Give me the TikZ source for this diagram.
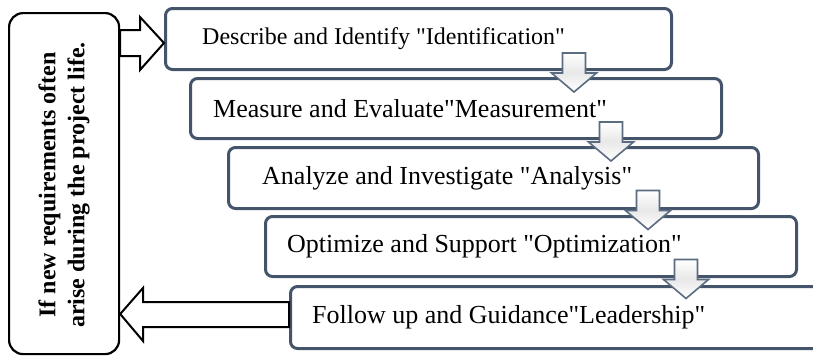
\documentclass[tikz,border=0pt]{standalone}
\usepackage{fontspec}
\setmainfont{Liberation Serif}
\usetikzlibrary{calc}

\definecolor{slate}{HTML}{44546A}
\definecolor{arrowedge}{HTML}{5B6B80}

\tikzset{
  stage/.style={draw=slate, line width=3pt, rounded corners=7pt, fill=white,
    anchor=north west, inner sep=0pt},
  stagetext/.style={anchor=west, inner sep=0pt},
  reqbox/.style={draw=black, line width=2.2pt, rounded corners=14pt,
    anchor=north west, inner sep=0pt},
  bigarrow/.style={draw=black, line width=2pt, fill=white, line join=miter},
  downarrow/.style={draw=arrowedge, line width=1.6pt, top color=white,
    bottom color=white, middle color=black!9},
  pics/stepdown/.style={code={%
    \path[downarrow] (-11.5,-19.5) -- (11.5,-19.5) -- (11.5,0.5) -- (22.5,0.5)
      -- (0,19.5) -- (-22.5,0.5) -- (-11.5,0.5) -- cycle;}}
}
% straight double quote
\newcommand\qq{\textquotedbl}

\begin{document}
\begin{tikzpicture}[x=1pt, y=-1pt]
    \clip (0,0) rectangle (813,356);

    % box with the feedback condition
    \node[reqbox, minimum width=110pt, minimum height=341pt] (req) at (8,12) {};
    \node[rotate=90, align=center, inner sep=0pt,
      font=\bfseries\fontsize{24}{29}\selectfont] (reqtext) at (64,185)
      {If new requirements often\\arise during the project life.};

    % the five stages, each shifted to the right
    \foreach \n/\x/\y/\w/\h/\dx/\fs/\txt in {%
        1/164/7/506/61/38/24/{Describe and Identify \qq Identification\qq},%
        2/189/77/531/60/24/26/{Measure and Evaluate\qq Measurement\qq},%
        3/227/146/530/61/35/26/{Analyze and Investigate \qq Analysis\qq},%
        4/264/215/531/60/23/26/{Optimize and Support \qq Optimization\qq},%
        5/289/285/543/62/23/26/{Follow up and Guidance\qq Leadership\qq}} {%
      \node[stage, minimum width=\w pt, minimum height=\h pt] (s\n) at (\x,\y) {};
      \node[stagetext, font=\fontsize{\fs}{30}\selectfont] (t\n)
        at ([xshift=\dx pt]s\n.west) {\txt};
    }

    % in and out arrows of the left box
    \draw[bigarrow] (req.east |- 0,30) -- (140,30) -- (140,17) -- (s1.west |- 0,43)
      -- (140,70) -- (140,56) -- (req.east |- 0,56) -- cycle;
    \draw[bigarrow] (s5.west |- 0,302) -- (143,302) -- (143,288) -- (req.east |- 0,314)
      -- (143,341) -- (143,327) -- (s5.west |- 0,327) -- cycle;

    % small arrows between stages
    \foreach \x/\y in {574/72.5, 611/141.5, 648/210, 686/279}
      \pic at (\x,\y) {stepdown};
\end{tikzpicture}
\end{document}
